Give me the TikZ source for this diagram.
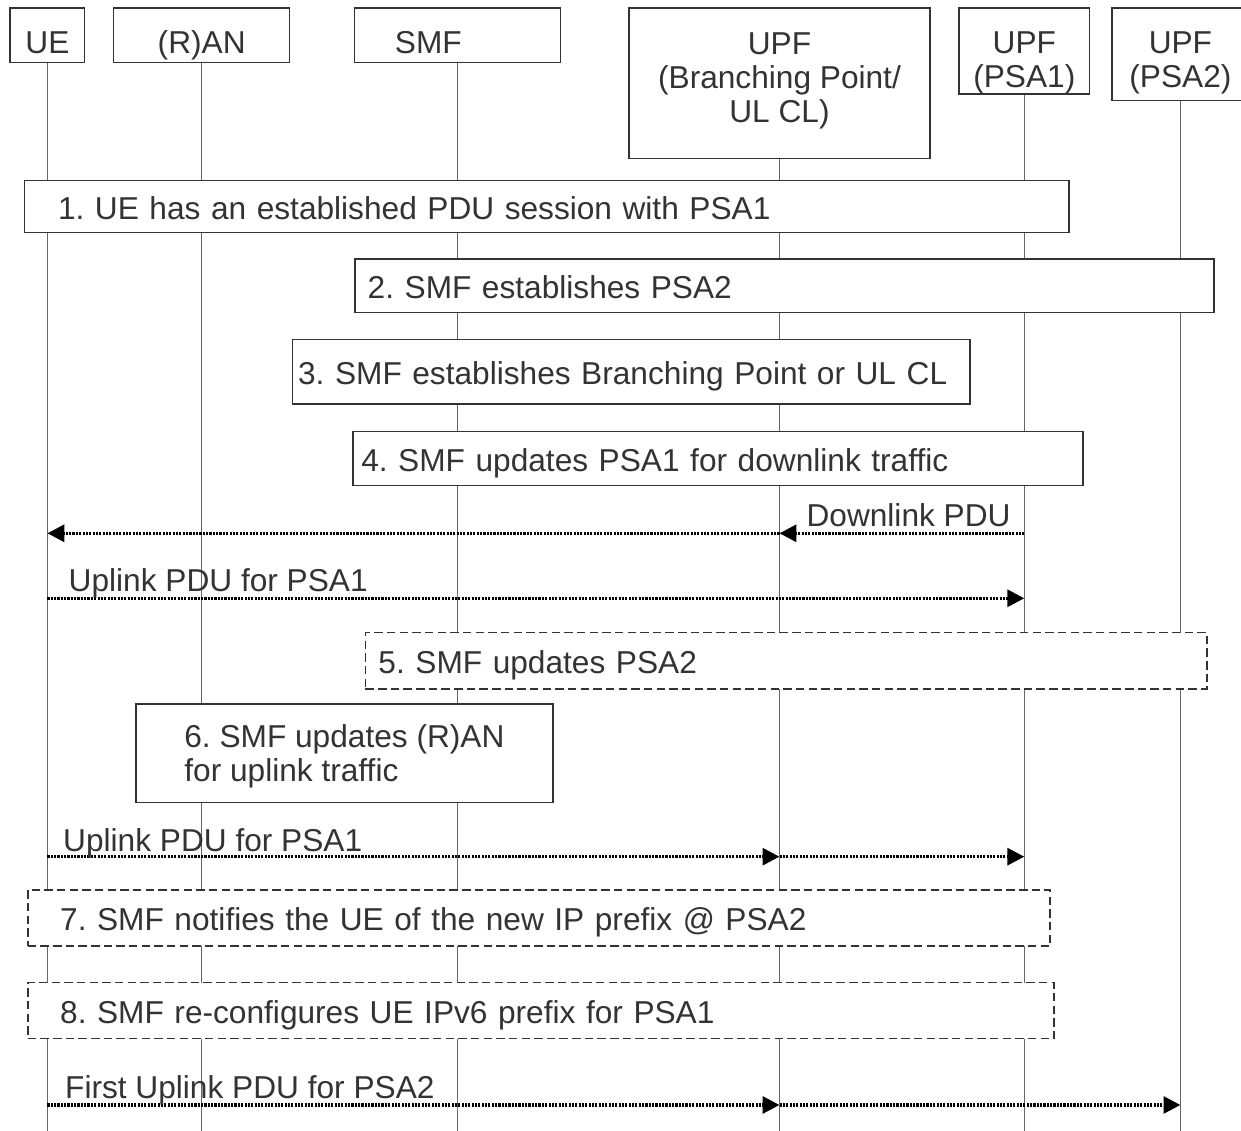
\documentclass[tikz,border=0pt]{standalone}
\usepackage{fontspec}
\setmainfont{Liberation Sans}
\usepackage{xcolor}
\usetikzlibrary{arrows.meta}

\definecolor{ink}{HTML}{333333}
\definecolor{lanegray}{HTML}{666666}

\tikzset{
	every node/.style={font=\fontsize{9}{9.6}\selectfont\frenchspacing, text=ink},
	hdr/.style={draw=ink, line width=0.4pt, fill=white, anchor=north, inner ysep=0pt, align=center},
	lane/.style={draw=lanegray, line width=0.3pt},
	stepbox/.style={draw=ink, line width=0.4pt, fill=white, anchor=north west, inner ysep=0pt, align=left, text height=0.8em, text depth=0.084em},
	optbox/.style={stepbox, line width=0.5pt, dash pattern=on 2.4pt off 1.2pt},
	msg/.style={black, line width=0.9pt, dash pattern=on 0.6pt off 0.35pt, -{Triangle[length=4.8pt,width=4.8pt]}},
	lbl/.style={anchor=base west, inner sep=0pt}
}

\begin{document}
\begin{tikzpicture}[x=0.01cm, y=-0.01cm]
		\useasboundingbox (0,0) rectangle (1241,1131);
		\node[hdr, minimum width=0.747cm, text height=0.454cm, text depth=0.09cm] (ue) at (47.4,7.3) {UE};
		\node[hdr, minimum width=1.76cm, text height=0.454cm, text depth=0.09cm] (ran) at (201.7,7.3) {(R)AN};
		\node[hdr, align=left, text width=1.25cm, inner xsep=0.405cm, text height=0.454cm, text depth=0.09cm] (smf) at (457.5,7.3) {SMF};
		\node[hdr, minimum width=3.006cm, text height=1.144cm, text depth=0.363cm] (bp) at (779.5,7.3) {UPF\\(Branching Point/\\UL CL)};
		\node[hdr, minimum width=1.302cm, text height=0.794cm, text depth=0.066cm] (psa1) at (1024.3,7.3) {UPF\\(PSA1)};
		\node[hdr, minimum width=1.368cm, text height=0.794cm, text depth=0.133cm] (psa2) at (1180.4,7.3) {UPF\\(PSA2)};

		\coordinate (bot) at (0,1131);
		\draw[lane] (ue.south) -- (ue.south |- bot);
		\draw[lane] (ran.south) -- (ran.south |- bot);
		\draw[lane] (smf.south) -- (smf.south |- bot);
		\draw[lane] (bp.south) -- (bp.south |- bot);
		\draw[lane] (psa1.south) -- (psa1.south |- bot);
		\draw[lane] (psa2.south) -- (psa2.south |- bot);

		\node[stepbox, text width=9.766cm, inner xsep=0.336cm, minimum height=0.517cm] (s1) at (23.7,180) {1. UE has an established PDU session with PSA1};
		\node[stepbox, text width=8.33cm, inner xsep=0.127cm, minimum height=0.534cm] (s2) at (354.3,258.3) {2. SMF establishes PSA2};
		\node[stepbox, text width=6.656cm, inner xsep=0.057cm, minimum height=0.643cm] (s3) at (291.7,339) {3. SMF establishes Branching Point or UL CL};
		\node[stepbox, text width=7.131cm, inner xsep=0.082cm, minimum height=0.543cm] (s4) at (352.4,430.7) {4. SMF updates PSA1 for downlink traffic};
		\node[optbox, text width=8.147cm, inner xsep=0.13cm, minimum height=0.566cm] (s5) at (364.6,631.7) {5. SMF updates PSA2};
		\node[stepbox, minimum width=4.168cm, minimum height=0.984cm, text height=16.8pt, text depth=0.76pt] (s6) at (135.2,703.3) {6. SMF updates (R)AN\\for uplink traffic};
		\node[optbox, text width=9.572cm, inner xsep=0.324cm, minimum height=0.56cm] (s7) at (26.9,889) {7. SMF notifies the UE of the new IP prefix @ PSA2};
		\node[optbox, text width=9.608cm, inner xsep=0.324cm, minimum height=0.56cm] (s8) at (26.9,981.7) {8. SMF re-configures UE IPv6 prefix for PSA1};

		\coordinate (m1) at (0,533.3);
		\coordinate (m2) at (0,598.3);
		\coordinate (m3) at (0,856.7);
		\coordinate (m4) at (0,1105);
		\draw[msg] (psa1 |- m1) -- (bp |- m1);
		\draw[msg] (bp |- m1) -- (ue |- m1);
		\node[lbl, anchor=base east] (dl) at (1011.3,526.7) {Downlink PDU};
		\draw[msg] (ue |- m2) -- (psa1 |- m2);
		\node[lbl] (ul1) at (68,591.7) {Uplink PDU for PSA1};
		\draw[msg] (ue |- m3) -- (bp |- m3);
		\draw[msg] (bp |- m3) -- (psa1 |- m3);
		\node[lbl] (ul2) at (62.5,851.7) {Uplink PDU for PSA1};
		\draw[msg] (ue |- m4) -- (bp |- m4);
		\draw[msg] (bp |- m4) -- (psa2 |- m4);
		\node[lbl] (ul3) at (64.5,1098.3) {First Uplink PDU for PSA2};
\end{tikzpicture}
\end{document}
